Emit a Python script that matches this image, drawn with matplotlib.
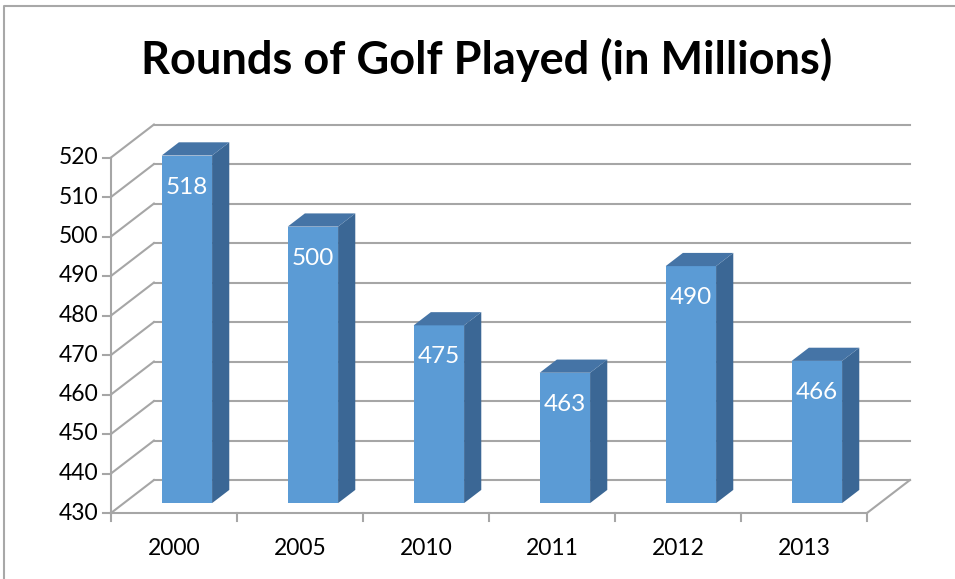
import matplotlib
matplotlib.use("Agg")
import matplotlib.pyplot as plt
from matplotlib.patches import Polygon
from matplotlib.lines import Line2D

years = ['2000', '2005', '2010', '2011', '2012', '2013']
rounds = [518, 500, 475, 463, 490, 466]
y_ticks = list(range(430, 521, 10))

plt.rcParams['font.family'] = ['Lato', 'DejaVu Sans']

# oblique depth of the fake 3d box (data units)
DX = 0.341
DY = 8.35
ymin, ymax = 430, 520

grid_c = '#a6a6a6'
front_c = '#5b9bd5'
side_c = '#3b6795'
top_c = '#4574a6'

fig = plt.figure(figsize=(9.55, 5.79), dpi=100)
ax = fig.add_axes([111 / 955, 66 / 579, 801 / 955, 389 / 579])
ax.set_xlim(-0.5, -0.5 + 801 / 126)
ax.set_ylim(ymin, ymin + 389 / 3.95)
ax.axis('off')

n = len(years)
x0, x1 = -0.5, n - 0.5

def line(xs, ys, **kw):
    ax.add_line(Line2D(xs, ys, color=grid_c, lw=1.5, clip_on=False, **kw))

# back wall grid and left wall diagonals
for v in y_ticks:
    line([x0 + DX, x1 + DX], [v + DY, v + DY])
    line([x0, x0 + DX], [v, v + DY])
    # y ticks + labels
    line([x0 - 0.063, x0], [v, v])
    ax.text(x0 - 0.1, v, str(v), ha='right', va='center', fontsize=16.5, color='black')

# floor
line([x0, x1], [ymin, ymin])
line([x1, x1 + DX], [ymin, ymin + DY])
# front vertical axis
line([x0, x0], [ymin, ymax])

# x ticks and labels
for i in range(n + 1):
    line([i - 0.5, i - 0.5], [ymin, ymin - 2.0])
for i, yr in enumerate(years):
    ax.text(i, ymin - 9.0, yr, ha='center', va='center', fontsize=16.5, color='black')

# bars
w = 0.4
d0, d1 = 0.3, 0.7
for i, v in enumerate(rounds):
    cx = i + d0 * DX
    bl, br = cx - w / 2, cx + w / 2
    yb = ymin + d0 * DY
    yt = v + d0 * DY
    ddx = (d1 - d0) * DX
    ddy = (d1 - d0) * DY
    ax.add_patch(Polygon([(bl, yb), (br, yb), (br, yt), (bl, yt)], closed=True,
                         fc=front_c, ec='none', zorder=3))
    ax.add_patch(Polygon([(br, yb), (br + ddx, yb + ddy), (br + ddx, yt + ddy), (br, yt)],
                         closed=True, fc=side_c, ec='none', zorder=3))
    ax.add_patch(Polygon([(bl, yt), (br, yt), (br + ddx, yt + ddy), (bl + ddx, yt + ddy)],
                         closed=True, fc=top_c, ec='none', zorder=3))
    ax.text(cx, yt - 8.0, str(v), ha='center', va='center', fontsize=17.5,
            color='white', zorder=4)

fig.text(487 / 955, 1 - 60 / 579, 'Rounds of Golf Played (in Millions)',
         ha='center', va='center', fontsize=32.5, fontweight='bold')

# outer frame (top and left only)
fig.add_artist(Line2D([4 / 955, 4 / 955, 1], [0, 1 - 6 / 579, 1 - 6 / 579],
                      transform=fig.transFigure, color='#a8a8a8', lw=1.5))

fig.savefig('out.png', dpi=100)
